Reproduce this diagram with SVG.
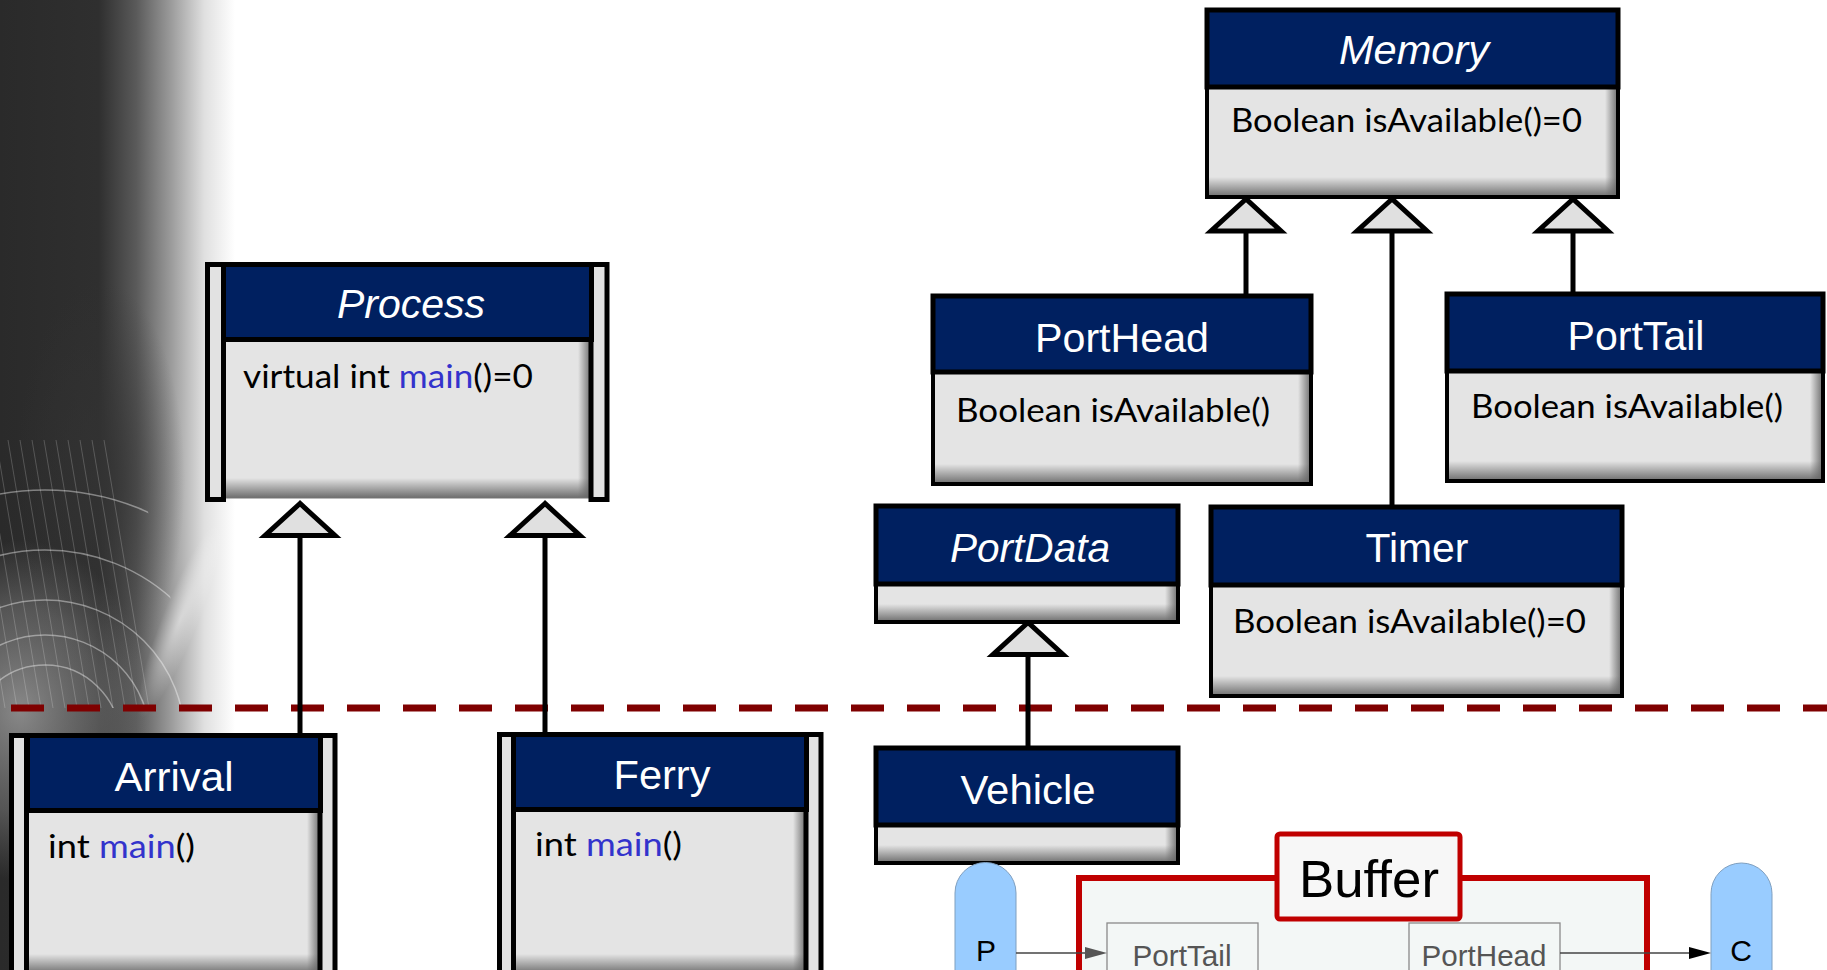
<svg xmlns="http://www.w3.org/2000/svg" width="1827" height="970" viewBox="0 0 1827 970">
  <defs>
    <style>
      .frame { fill: none; stroke: #000; stroke-width: 4; }
      .hdr { fill: #002060; stroke: #000; stroke-width: 5; }
      .body { fill: #e4e4e4; }
      .shR { fill: url(#shadeR); }
      .shB { fill: url(#shadeB); }
      .bar { fill: #e2e2e2; stroke: #000; stroke-width: 5; }
      .title { font-family: "Liberation Sans", Arial, sans-serif; font-size: 40px; fill: #fff; text-anchor: middle; }
      .abstract { font-style: italic; }
      .op { font-family: Lato, "Open Sans", sans-serif; font-size: 32px; fill: #000; }
      .fn { fill: #3333cc; }
      .gen { fill: none; stroke: #000; stroke-width: 5; marker-end: url(#genHead); }
      .pill { fill: #99ccff; stroke: #7f9fbf; stroke-width: 1; }
      .pillTxt { font-family: "Liberation Sans", Arial, sans-serif; font-size: 30px; fill: #000; text-anchor: middle; }
      .port { fill: #f3f7f6; stroke: #8a8a8a; stroke-width: 1.3; }
      .portTxt { font-family: "Liberation Sans", Arial, sans-serif; font-size: 30px; fill: #555; text-anchor: middle; }
      .flow { stroke: #444; stroke-width: 1.5; fill: none; }
      .mesh { fill: none; stroke: #fff; }
    </style>
    <linearGradient id="shadeR" x1="0" y1="0" x2="1" y2="0">
      <stop offset="0" stop-color="#666" stop-opacity="0"/>
      <stop offset="1" stop-color="#666" stop-opacity="0.95"/>
    </linearGradient>
    <linearGradient id="shadeB" x1="0" y1="0" x2="0" y2="1">
      <stop offset="0" stop-color="#666" stop-opacity="0"/>
      <stop offset="1" stop-color="#666" stop-opacity="0.95"/>
    </linearGradient>
    <linearGradient id="bgFade" x1="0" y1="0" x2="1" y2="0">
      <stop offset="0" stop-color="#2a2a2a"/>
      <stop offset="0.42" stop-color="#2f2f2f"/>
      <stop offset="0.58" stop-color="#5a5a5a"/>
      <stop offset="0.73" stop-color="#9c9c9c"/>
      <stop offset="0.87" stop-color="#e0e0e0"/>
      <stop offset="1" stop-color="#ffffff"/>
    </linearGradient>
    <radialGradient id="darkCore" cx="0.5" cy="0.5" r="0.5">
      <stop offset="0" stop-color="#333" stop-opacity="0.85"/>
      <stop offset="1" stop-color="#333" stop-opacity="0"/>
    </radialGradient>
    <radialGradient id="lightPool" cx="0.5" cy="0.5" r="0.5">
      <stop offset="0" stop-color="#a8a8a8" stop-opacity="0.75"/>
      <stop offset="0.6" stop-color="#8a8a8a" stop-opacity="0.45"/>
      <stop offset="1" stop-color="#808080" stop-opacity="0"/>
    </radialGradient>
    <radialGradient id="beam" cx="0.5" cy="0.5" r="0.5">
      <stop offset="0" stop-color="#fff" stop-opacity="0.5"/>
      <stop offset="1" stop-color="#fff" stop-opacity="0"/>
    </radialGradient>
    <clipPath id="meshClip">
      <path d="M0 440 L120 440 Q175 560 185 708 L0 708 Z"/>
    </clipPath>
    <marker id="genHead" markerUnits="userSpaceOnUse" viewBox="-40 -40 44 80" markerWidth="44" markerHeight="80" refX="0" refY="0" orient="auto" overflow="visible">
      <path d="M0,0 L-32,-35 L-32,35 Z" fill="#e0e0e0" stroke="#000" stroke-width="5"/>
    </marker>
  </defs>

  <!-- backdrop -->
  <rect x="0" y="0" width="1827" height="970" fill="#fff"/>
  <g id="backdrop">
    <rect x="0" y="0" width="235" height="970" fill="url(#bgFade)"/>
    <ellipse cx="100" cy="480" rx="85" ry="200" fill="url(#darkCore)"/>
    <ellipse cx="20" cy="710" rx="130" ry="170" fill="url(#lightPool)"/>
    <ellipse cx="180" cy="620" rx="18" ry="105" transform="rotate(22 180 620)" fill="url(#beam)"/>
    <g clip-path="url(#meshClip)">
      <g class="mesh" stroke-opacity="0.4" stroke-width="1.5">
        <circle cx="45" cy="740" r="75"/>
        <circle cx="45" cy="740" r="105"/>
        <circle cx="45" cy="740" r="140"/>
        <circle cx="45" cy="740" r="190"/>
        <circle cx="45" cy="740" r="250"/>
        <circle cx="45" cy="740" r="320"/>
      </g>
      <path class="mesh" stroke-opacity="0.2" stroke-width="1" d="M-40 440 L5 708 M-28 440 L17 708 M-16 440 L29 708 M-4 440 L41 708 M8 440 L53 708 M20 440 L65 708 M32 440 L77 708 M44 440 L89 708 M56 440 L101 708 M68 440 L113 708 M80 440 L125 708 M92 440 L137 708 M104 440 L149 708"/>
    </g>
  </g>

  <!-- package boundary -->
  <g id="boundary">
    <line x1="11" y1="708" x2="1827" y2="708" stroke="#7f0000" stroke-width="7" stroke-dasharray="33 23"/>
  </g>

  <!-- generalization connectors -->
  <g id="connectors">
    <path class="gen" d="M300 733 V503.5"/>
    <path class="gen" d="M545 732 V503.5"/>
    <path class="gen" d="M1246 296 V199"/>
    <path class="gen" d="M1392 507 V199"/>
    <path class="gen" d="M1573 294 V199"/>
    <path class="gen" d="M1028 748 V622.5"/>
  </g>

  <!-- Memory -->
  <g id="memory">
    <rect class="body" x="1207" y="87" width="411" height="110"/>
    <rect class="shR" x="1605" y="87" width="13" height="110"/>
    <rect class="shB" x="1207" y="177" width="411" height="20"/>
    <rect class="frame" x="1207" y="10" width="411" height="187"/>
    <rect class="hdr" x="1207" y="10" width="411" height="77"/>
    <text class="title abstract" x="1414" y="64" textLength="150" lengthAdjust="spacingAndGlyphs">Memory</text>
    <text class="op" x="1231" y="132" textLength="351" lengthAdjust="spacingAndGlyphs">Boolean isAvailable()=0</text>
  </g>

  <!-- PortHead -->
  <g id="porthead">
    <rect class="body" x="933" y="372" width="378" height="112"/>
    <rect class="shR" x="1298" y="372" width="13" height="112"/>
    <rect class="shB" x="933" y="464" width="378" height="20"/>
    <rect class="frame" x="933" y="296" width="378" height="188"/>
    <rect class="hdr" x="933" y="296" width="378" height="76"/>
    <text class="title" x="1122" y="352" textLength="174" lengthAdjust="spacingAndGlyphs">PortHead</text>
    <text class="op" x="956" y="422" textLength="314" lengthAdjust="spacingAndGlyphs">Boolean isAvailable()</text>
  </g>

  <!-- PortTail -->
  <g id="porttail">
    <rect class="body" x="1447" y="371" width="376" height="110"/>
    <rect class="shR" x="1810" y="371" width="13" height="110"/>
    <rect class="shB" x="1447" y="461" width="376" height="20"/>
    <rect class="frame" x="1447" y="294" width="376" height="187"/>
    <rect class="hdr" x="1447" y="294" width="376" height="77"/>
    <text class="title" x="1636" y="350" textLength="137" lengthAdjust="spacingAndGlyphs">PortTail</text>
    <text class="op" x="1471" y="418" textLength="312" lengthAdjust="spacingAndGlyphs">Boolean isAvailable()</text>
  </g>

  <!-- Timer -->
  <g id="timer">
    <rect class="body" x="1211" y="585" width="411" height="111"/>
    <rect class="shR" x="1609" y="585" width="13" height="111"/>
    <rect class="shB" x="1211" y="676" width="411" height="20"/>
    <rect class="frame" x="1211" y="507" width="411" height="189"/>
    <rect class="hdr" x="1211" y="507" width="411" height="78"/>
    <text class="title" x="1417" y="562" textLength="103" lengthAdjust="spacingAndGlyphs">Timer</text>
    <text class="op" x="1233" y="633" textLength="353" lengthAdjust="spacingAndGlyphs">Boolean isAvailable()=0</text>
  </g>

  <!-- PortData -->
  <g id="portdata">
    <rect class="body" x="876" y="584" width="302" height="38"/>
    <rect class="shR" x="1165" y="584" width="13" height="38"/>
    <rect class="shB" x="876" y="604" width="302" height="18"/>
    <rect class="frame" x="876" y="506" width="302" height="116"/>
    <rect class="hdr" x="876" y="506" width="302" height="78"/>
    <text class="title abstract" x="1030" y="562" textLength="160" lengthAdjust="spacingAndGlyphs">PortData</text>
  </g>

  <!-- Vehicle -->
  <g id="vehicle">
    <rect class="body" x="876" y="825" width="302" height="38"/>
    <rect class="shR" x="1165" y="825" width="13" height="38"/>
    <rect class="shB" x="876" y="845" width="302" height="18"/>
    <rect class="frame" x="876" y="748" width="302" height="115"/>
    <rect class="hdr" x="876" y="748" width="302" height="77"/>
    <text class="title" x="1028" y="804" textLength="135" lengthAdjust="spacingAndGlyphs">Vehicle</text>
  </g>

  <!-- Process (active class) -->
  <g id="process">
    <rect class="body" x="224" y="340" width="367" height="158"/>
    <rect class="shR" x="578" y="340" width="13" height="158"/>
    <rect class="shB" x="224" y="478" width="367" height="20"/>
    <rect x="224" y="340" width="367" height="158" fill="none" stroke="#777" stroke-width="1"/>
    <rect class="bar" x="207.5" y="264.5" width="16" height="235"/>
    <rect class="bar" x="591" y="264.5" width="16" height="235"/>
    <rect class="hdr" x="223.5" y="264.5" width="368" height="75"/>
    <text class="title abstract" x="411" y="318" textLength="148" lengthAdjust="spacingAndGlyphs">Process</text>
    <text class="op" x="243" y="388" textLength="290" lengthAdjust="spacingAndGlyphs">virtual int <tspan class="fn">main</tspan>()=0</text>
  </g>

  <!-- Arrival (active class) -->
  <g id="arrival">
    <rect class="body" x="28" y="811" width="292" height="163"/>
    <rect class="shR" x="307" y="811" width="13" height="163"/>
    <rect class="shB" x="28" y="954" width="292" height="20"/>
    <rect class="bar" x="11.5" y="735.5" width="15" height="260"/>
    <rect class="bar" x="320" y="735.5" width="15" height="260"/>
    <rect class="hdr" x="27.5" y="735.5" width="293" height="75"/>
    <text class="title" x="174" y="791" textLength="119" lengthAdjust="spacingAndGlyphs">Arrival</text>
    <text class="op" x="48" y="858" textLength="147" lengthAdjust="spacingAndGlyphs">int <tspan class="fn">main</tspan>()</text>
  </g>

  <!-- Ferry (active class) -->
  <g id="ferry">
    <rect class="body" x="514" y="810" width="292" height="164"/>
    <rect class="shR" x="793" y="810" width="13" height="164"/>
    <rect class="shB" x="514" y="954" width="292" height="20"/>
    <rect class="bar" x="499.5" y="734.5" width="14" height="260"/>
    <rect class="bar" x="806" y="734.5" width="15" height="260"/>
    <rect class="hdr" x="513.5" y="734.5" width="293" height="75"/>
    <text class="title" x="662" y="789" textLength="97" lengthAdjust="spacingAndGlyphs">Ferry</text>
    <text class="op" x="535" y="856" textLength="147" lengthAdjust="spacingAndGlyphs">int <tspan class="fn">main</tspan>()</text>
  </g>

  <!-- Buffer composite -->
  <g id="buffer">
    <rect x="1079" y="878" width="568" height="130" fill="#f3f7f6" stroke="#c00000" stroke-width="6"/>
    <rect class="port" x="1107" y="923" width="151" height="70"/>
    <text class="portTxt" x="1182" y="966" textLength="99" lengthAdjust="spacingAndGlyphs">PortTail</text>
    <rect class="port" x="1409" y="923" width="151" height="70"/>
    <text class="portTxt" x="1484" y="966" textLength="125" lengthAdjust="spacingAndGlyphs">PortHead</text>
    <rect x="1277" y="834" width="183" height="85" rx="3" fill="#f7f7f7" stroke="#c00000" stroke-width="5"/>
    <text x="1369" y="897" font-family="'Liberation Sans', Arial, sans-serif" font-size="52" text-anchor="middle" fill="#000" textLength="140" lengthAdjust="spacingAndGlyphs">Buffer</text>
  </g>

  <g id="producer">
    <path class="pill" d="M955 975 V893 A30.5 30.5 0 0 1 1016 893 V975"/>
    <text class="pillTxt" x="986" y="961">P</text>
  </g>

  <g id="consumer">
    <path class="pill" d="M1711 975 V893.5 A30.5 30.5 0 0 1 1772 893.5 V975"/>
    <text class="pillTxt" x="1741" y="961">C</text>
  </g>

  <!-- data flow -->
  <g id="flows">
    <line class="flow" x1="1016" y1="953" x2="1087" y2="953"/>
    <polygon points="1085,947 1107,953 1085,959" fill="#555"/>
    <line class="flow" x1="1560" y1="953" x2="1691" y2="953"/>
    <polygon points="1689,947 1711,953 1689,959" fill="#000"/>
  </g>
</svg>
